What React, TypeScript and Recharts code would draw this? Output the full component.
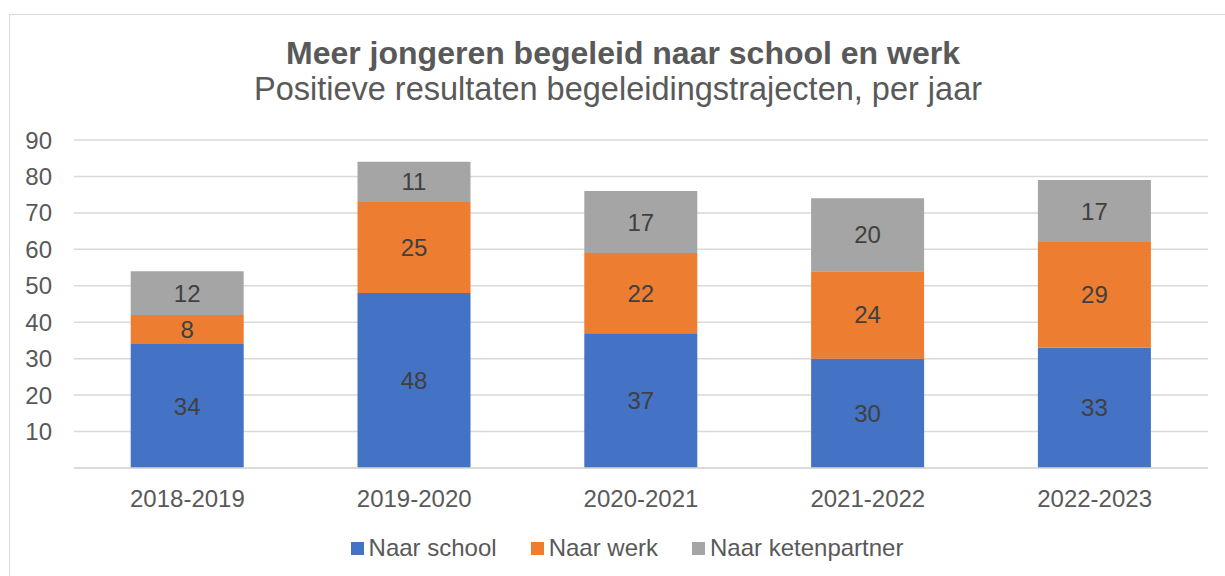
import { BarChart, Bar, XAxis, YAxis, CartesianGrid, LabelList, Legend } from "recharts";

const jaren = ["2018-2019", "2019-2020", "2020-2021", "2021-2022", "2022-2023"];
const naarSchool = [34, 48, 37, 30, 33];
const naarWerk = [8, 25, 22, 24, 29];
const naarKetenpartner = [12, 11, 17, 20, 17];
const yTicks = [10, 20, 30, 40, 50, 60, 70, 80, 90];

const FONT = "'Liberation Sans', Arial, sans-serif";
const TEXT = "#595959";

const reeksen = [
  { key: "school", name: "Naar school", color: "#4472C4", values: naarSchool },
  { key: "werk", name: "Naar werk", color: "#ED7D31", values: naarWerk },
  { key: "keten", name: "Naar ketenpartner", color: "#A5A5A5", values: naarKetenpartner },
];

const data = jaren.map((jaar, i) => {
  const row: Record<string, string | number> = { jaar };
  reeksen.forEach((r) => (row[r.key] = r.values[i]));
  return row;
});

function LegendaInhoud() {
  return (
    <div
      style={{
        position: "relative",
        top: 6,
        left: 23,
        display: "flex",
        justifyContent: "center",
        gap: 34,
        fontFamily: FONT,
        fontSize: 24,
        color: TEXT,
      }}
    >
      {reeksen.map((r) => (
        <div key={r.key} style={{ display: "flex", alignItems: "center" }}>
          <span style={{ width: 13, height: 13, background: r.color, marginRight: 5, display: "inline-block" }} />
          <span>{r.name}</span>
        </div>
      ))}
    </div>
  );
}

export default function App() {
  return (
    <div style={{ position: "absolute", left: 0, top: 0, width: 1225, height: 576, overflow: "hidden", background: "#fff" }}>
      <div style={{ position: "absolute", left: 9, top: 14, width: 1240, height: 600, border: "1.5px solid #d9d9d9", boxSizing: "border-box" }} />
      <svg width={1225} height={120} style={{ position: "absolute", left: 0, top: 0 }}>
        <text x={623} y={64} textAnchor="middle" fontFamily={FONT} fontSize={32} fontWeight="bold" fill={TEXT}>
          Meer jongeren begeleid naar school en werk
        </text>
        <text x={618} y={100} textAnchor="middle" fontFamily={FONT} fontSize={32.5} fill={TEXT}>
          Positieve resultaten begeleidingstrajecten, per jaar
        </text>
      </svg>
      <div style={{ position: "absolute", left: 0, top: 0 }}>
        <BarChart
          width={1225}
          height={576}
          data={data}
          barCategoryGap="25%"
          margin={{ top: 140, right: 17, left: 0, bottom: 20 }}
        >
          <CartesianGrid vertical={false} stroke="#d9d9d9" strokeWidth={1.5} />
          <XAxis
            dataKey="jaar"
            axisLine={{ stroke: "#d9d9d9", strokeWidth: 1.5 }}
            tickLine={false}
            tickSize={0}
            tickMargin={22}
            height={60}
            tick={{ fontFamily: FONT, fontSize: 24, fill: TEXT }}
          />
          <YAxis
            domain={[0, 90]}
            ticks={yTicks}
            interval={0}
            axisLine={false}
            tickLine={false}
            tickSize={0}
            tickMargin={22}
            width={74}
            tick={{ fontFamily: FONT, fontSize: 24, fill: TEXT }}
          />
          <Legend verticalAlign="bottom" content={<LegendaInhoud />} />
          {reeksen.map((r) => (
            <Bar key={r.key} dataKey={r.key} name={r.name} stackId="a" fill={r.color} isAnimationActive={false}>
              <LabelList dataKey={r.key} position="center" fill="#404040" fontFamily={FONT} fontSize={24} />
            </Bar>
          ))}
        </BarChart>
      </div>
    </div>
  );
}
